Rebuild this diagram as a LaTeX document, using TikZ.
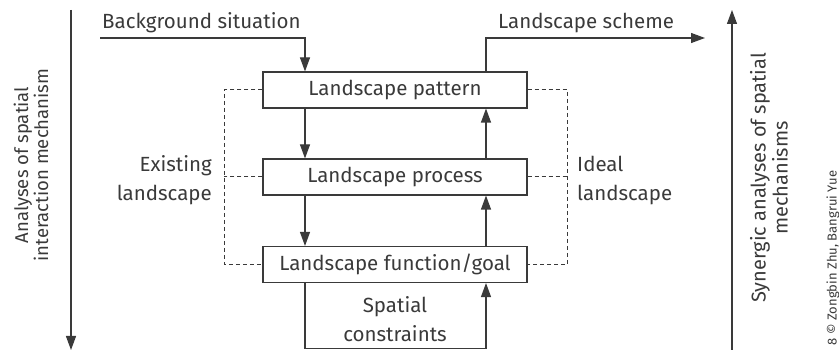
\documentclass[tikz,border=0pt]{standalone}
\usepackage{fontspec}
\setmainfont{Fira Sans}
\usetikzlibrary{arrows.meta}
\definecolor{ink}{HTML}{3A3A3A}
\begin{document}
\begin{tikzpicture}[x=1pt,y=-1pt,
  stagebox/.style={draw=ink, line width=1.1pt, minimum width=264pt, minimum height=36pt,
    inner sep=0pt, text=ink, font=\fontsize{20.5}{24}\selectfont},
  flow/.style={draw=ink, line width=1.1pt, -{Triangle[length=14pt,width=10pt]}},
  link/.style={draw=ink, line width=1pt, dash pattern=on 4pt off 3pt},
  lbl/.style={text=ink, inner sep=0pt, font=\fontsize{20.5}{24}\selectfont},
  axislbl/.style={text=ink, inner sep=0pt, align=center, rotate=90}]
\path[use as bounding box] (0,0) rectangle (839,352);

% the three landscape stages
\node[stagebox] (pat) at (395,90)    {Landscape pattern};
\node[stagebox] (pro) at (395,177)   {Landscape process};
\node[stagebox] (fun) at (395,264.5) {Landscape function/goal};

% input and output
\coordinate (bgS) at (100,38);
\coordinate (sch) at (705,38);
\node[lbl, anchor=base west] (bgT) at (102,29) {Background situation};
\node[lbl, anchor=base west] (schT) at (498,29) {Landscape scheme};
\draw[flow] (bgS) -| ([xshift=-90pt]pat.north);
\draw[flow] ([xshift=91pt]pat.north) |- (sch);

% downward analysis and upward synthesis
\draw[flow] ([xshift=-90pt]pat.south) -- ([xshift=-90pt]pro.north);
\draw[flow] ([xshift=-90pt]pro.south) -- ([xshift=-90pt]fun.north);
\draw[flow] ([xshift=91pt]pro.north) -- ([xshift=91pt]pat.south);
\draw[flow] ([xshift=91pt]fun.north) -- ([xshift=91pt]pro.south);

% spatial constraints loop
\draw[flow] ([xshift=-90pt]fun.south) -- ++(0,65.5) -| ([xshift=91pt]fun.south);
\node[lbl, anchor=base] (spT) at (395,313) {Spatial};
\node[lbl, anchor=base] (coT) at (395,342) {constraints};

% existing and ideal landscape brackets
\draw[link] (pat.west) -- ++(-38,0) |- (fun.west);
\draw[link] (pro.west) -- ++(-38,0);
\draw[link] (pat.east) -- ++(40,0) |- (fun.east);
\draw[link] (pro.east) -- ++(40,0);
\node[lbl, anchor=base east] (exA) at (212,172) {Existing};
\node[lbl, anchor=base east] (exB) at (212,201) {landscape};
\node[lbl, anchor=base west] (idA) at (577,172) {Ideal};
\node[lbl, anchor=base west] (idB) at (577,201) {landscape};

% the two analysis axes
\coordinate (lTop) at (71,10);
\coordinate (lBot) at (71,350);
\coordinate (rTop) at (732,10);
\coordinate (rBot) at (732,350);
\draw[flow] (lTop) -- (lBot);
\draw[flow] (rBot) -- (rTop);
\node[axislbl, font=\fontsize{18.5}{20}\selectfont] (lAx) at (31,165)
  {Analyses of spatial\\interaction mechanism};
\node[axislbl, font=\fontsize{20}{22}\selectfont] (rAx) at (769,178)
  {Synergic analyses of spatial\\mechanisms};

% credit line
\node[text=ink, inner sep=0pt, rotate=90, font=\fontsize{13}{14}\selectfont] (cred) at (833,258)
  {8 \textcopyright\ Zongbin Zhu, Bangrui Yue};
\end{tikzpicture}
\end{document}
